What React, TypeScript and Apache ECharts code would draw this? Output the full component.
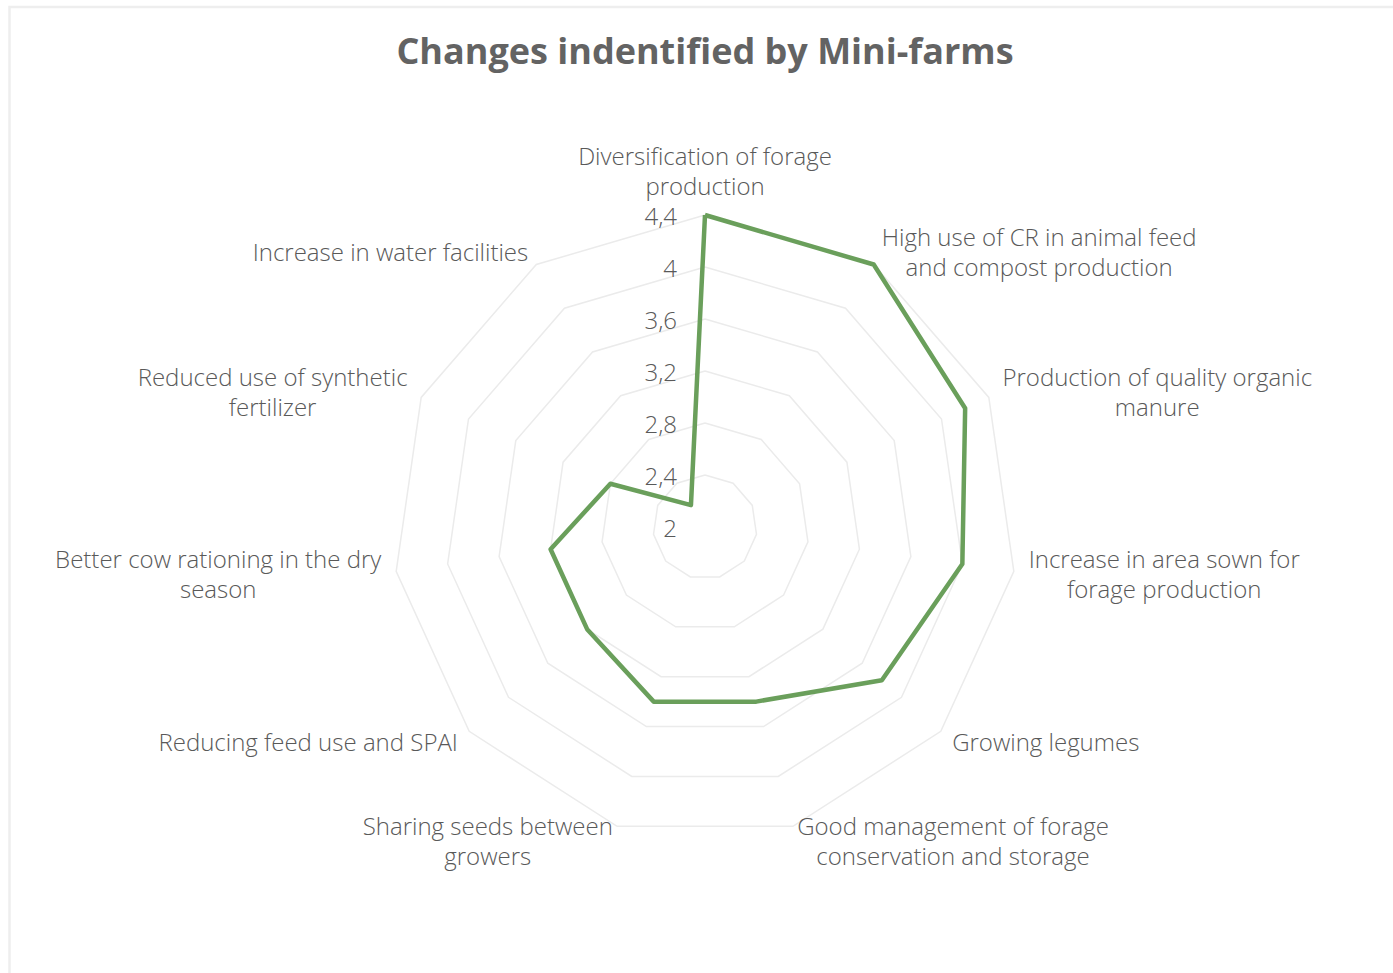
import React, { useEffect, useRef } from "react";
import * as echarts from "echarts";

const TITLE = "Changes indentified by Mini-farms";

// Indicators in clockwise order starting from the top
const categories = [
  "Diversification of forage\nproduction",
  "High use of CR in animal feed\nand compost production",
  "Production of quality organic\nmanure",
  "Increase in area sown for\nforage production",
  "Growing legumes",
  "Good management of forage\nconservation and storage",
  "Sharing seeds between\ngrowers",
  "Reducing feed use and SPAI",
  "Better cow rationing in the dry\nseason",
  "Reduced use of synthetic\nfertilizer",
  "Increase in water facilities",
];

const values = [4.4, 4.4, 4.2, 4.0, 3.8, 3.4, 3.4, 3.2, 3.2, 2.8, 2.2];

const axisMin = 2;
const axisMax = 4.4;
const splitCount = 6;

const FONT = "Open Sans";
const TEXT_COLOR = "#595959";
const LINE_COLOR = "#6a9f5b";
const GRID_COLOR = "#ebebeb";
const LABEL_SIZE = 24;

export default function App() {
  const ref = useRef<HTMLDivElement>(null);

  useEffect(() => {
    document.body.style.margin = "0";
    const chart = echarts.init(ref.current!, null, { renderer: "svg" });

    // ECharts places indicators counter-clockwise; reorder so they read clockwise.
    const order = [0, ...categories.map((_, i) => i).slice(1).reverse()];
    const indicator = order.map((i, k) => {
      const ind: any = { name: categories[i], min: axisMin, max: axisMax };
      if (k === 0) {
        ind.axisLabel = {
          show: true,
          margin: 28,
          fontFamily: FONT,
          fontWeight: 300,
          fontSize: LABEL_SIZE,
          color: TEXT_COLOR,
          formatter: (v: number) => String(+Number(v).toFixed(1)).replace(".", ","),
        };
      }
      return ind;
    });
    const data = order.map((i) => values[i]);

    chart.setOption({
      animation: false,
      backgroundColor: "#ffffff",
      graphic: [
        {
          type: "rect",
          shape: { x: 9.5, y: 7, width: 3000, height: 3000 },
          style: { fill: "none", stroke: "#eeeeee", lineWidth: 2.5 },
          silent: true,
        },
        {
          type: "text",
          x: 705,
          y: 50,
          style: {
            text: TITLE,
            fontFamily: FONT,
            fontWeight: "bold",
            fontSize: 36,
            fill: "#636363",
            textAlign: "center",
            textVerticalAlign: "middle",
          },
        },
      ],
      radar: {
        center: [705, 527],
        radius: 312,
        startAngle: 90,
        splitNumber: splitCount,
        shape: "polygon",
        nameGap: 15,
        indicator,
        axisName: {
          color: TEXT_COLOR,
          fontFamily: FONT,
          fontWeight: 300,
          fontSize: LABEL_SIZE,
          lineHeight: 30,
          formatter: (name: string) =>
            name
              .split("\n")
              .map((l) => `{c|${l}}`)
              .join("\n"),
          rich: {
            c: {
              align: "center",
              color: TEXT_COLOR,
              fontFamily: FONT,
              fontWeight: 300,
              fontSize: LABEL_SIZE,
              lineHeight: 30,
            },
          },
        },
        axisLine: { show: false },
        axisTick: { show: false },
        axisLabel: { show: false },
        splitArea: { show: false },
        splitLine: { lineStyle: { color: GRID_COLOR, width: 1.5 } },
      },
      series: [
        {
          type: "radar",
          symbol: "none",
          lineStyle: { color: LINE_COLOR, width: 4.5 },
          data: [{ value: data, name: "Mini-farms" }],
        },
      ],
    });

    return () => chart.dispose();
  }, []);

  return <div ref={ref} style={{ width: 1393, height: 973 }} />;
}
